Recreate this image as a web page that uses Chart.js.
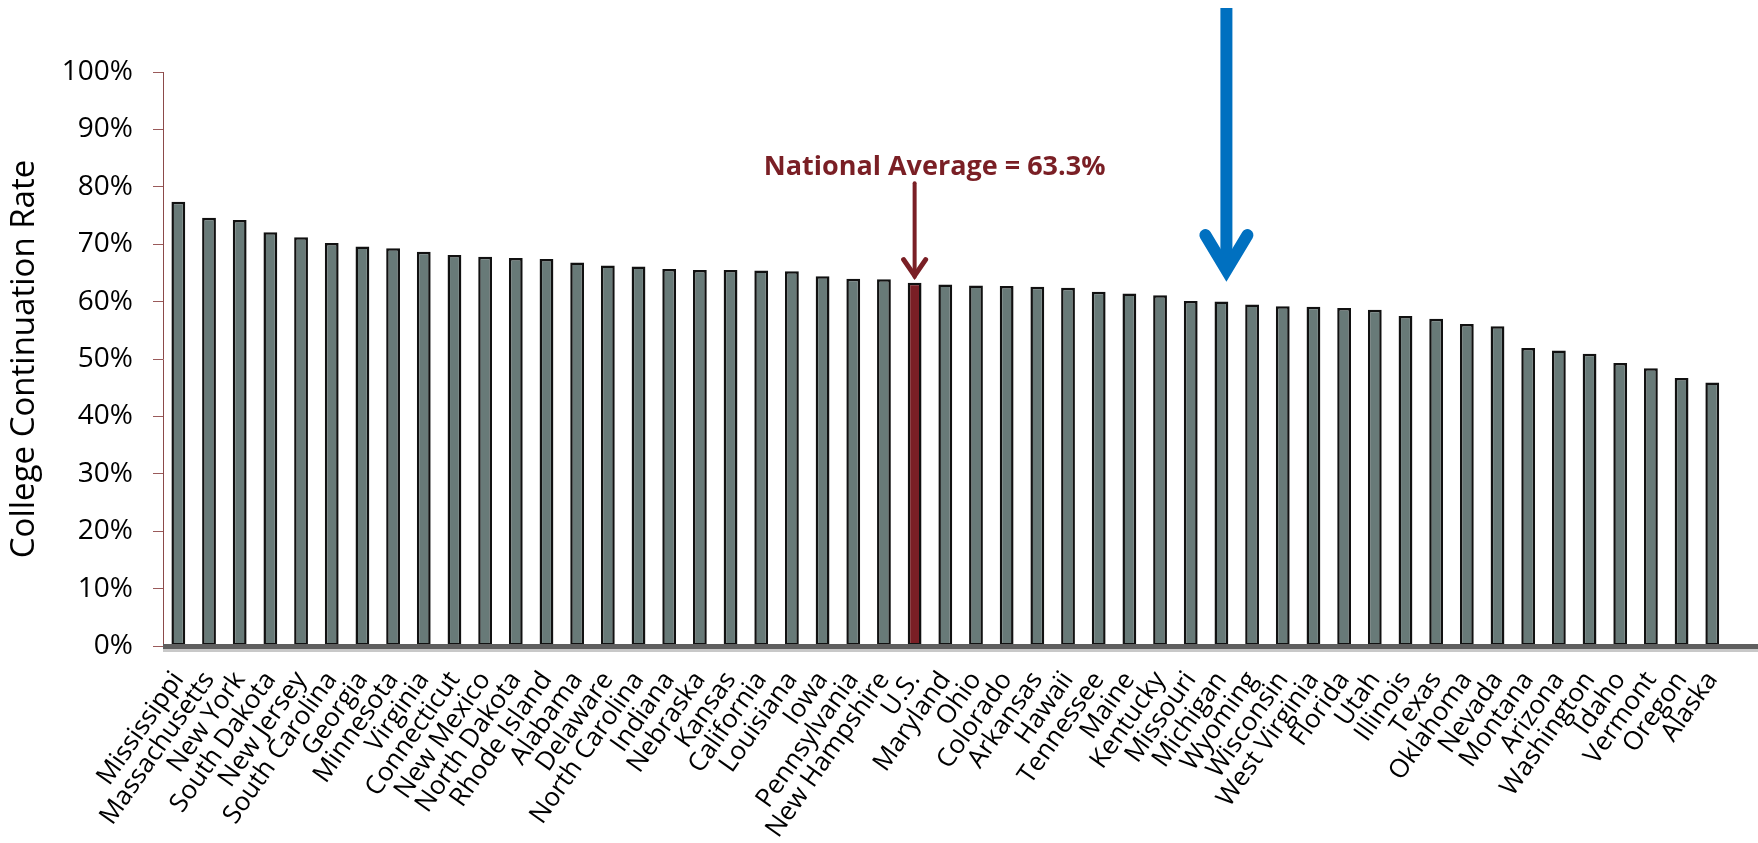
<!DOCTYPE html>
<html>
<head>
<meta charset="utf-8">
<script src="https://cdn.jsdelivr.net/npm/chart.js@4.4.1/dist/chart.umd.min.js"></script>
<style>
    body { margin: 0; background: #fff; }
    #wrap { width: 1758px; height: 843px; }
</style>
</head>
<body>
<div id="wrap"><canvas id="js--chart"></canvas></div>
<script>
/* college continuation rate per state, U.S. = national average */

const states = [
    "Mississippi", "Massachusetts", "New York", "South Dakota", "New Jersey", "South Carolina",
    "Georgia", "Minnesota", "Virginia", "Connecticut", "New Mexico", "North Dakota",
    "Rhode Island", "Alabama", "Delaware", "North Carolina", "Indiana", "Nebraska",
    "Kansas", "California", "Louisiana", "Iowa", "Pennsylvania", "New Hampshire",
    "U.S.", "Maryland", "Ohio", "Colorado", "Arkansas", "Hawaii",
    "Tennessee", "Maine", "Kentucky", "Missouri", "Michigan", "Wyoming",
    "Wisconsin", "West Virginia", "Florida", "Utah", "Illinois", "Texas",
    "Oklahoma", "Nevada", "Montana", "Arizona", "Washington", "Idaho",
    "Vermont", "Oregon", "Alaska"
];

const rates = [
    77.4, 74.6, 74.2, 72.1, 71.2, 70.2,
    69.6, 69.3, 68.7, 68.1, 67.8, 67.6,
    67.4, 66.8, 66.3, 66.1, 65.7, 65.5,
    65.5, 65.4, 65.3, 64.4, 64.0, 63.9,
    63.3, 63.0, 62.8, 62.7, 62.6, 62.4,
    61.7, 61.4, 61.1, 60.1, 60.0, 59.5,
    59.2, 59.1, 58.9, 58.6, 57.5, 57.0,
    56.1, 55.7, 51.9, 51.5, 50.9, 49.3,
    48.4, 46.7, 45.9
];

const yTicks = [0, 10, 20, 30, 40, 50, 60, 70, 80, 90, 100];

const nationalLabel = "National Average = 63.3%";
const nationalState = "U.S.";
const nationalValue = 63.3;
const pointedState = "Michigan";

const barColor = "#687a78";
const usColor = "#7a1f25";
const blue = "#0070c0";

// de U.S. balk krijgt een andere kleur
const colors = states.map(function (s) {
    return s === nationalState ? usColor : barColor;
});

// pijlen, tekst en de dikke x-as lijn
const extras = {
    id: "extras",
    afterDatasetsDraw: function (chart) {
        const ctx = chart.ctx;
        const x = chart.scales.x;
        const y = chart.scales.y;
        const area = chart.chartArea;

        // dikke grijze as onderaan, loopt door tot de rand
        const y0 = y.getPixelForValue(0);
        ctx.save();
        ctx.fillStyle = "#c8c8c8";
        ctx.fillRect(area.left, y0 + 1, chart.width - area.left, 5);
        ctx.fillStyle = "#5f5f5f";
        ctx.fillRect(area.left, y0 - 2, chart.width - area.left, 5);

        // national average
        const ux = x.getPixelForValue(states.indexOf(nationalState));
        ctx.fillStyle = usColor;
        ctx.font = "bold 27px 'Open Sans'";
        ctx.textAlign = "center";
        ctx.textBaseline = "alphabetic";
        ctx.fillText(nationalLabel, ux + 20, y.getPixelForValue(82.0));

        const redTop = y.getPixelForValue(80.6);
        const redTip = y.getPixelForValue(nationalValue + 0.7);
        ctx.strokeStyle = usColor;
        ctx.lineWidth = 4;
        ctx.lineCap = "round";
        ctx.beginPath();
        ctx.moveTo(ux, redTop);
        ctx.lineTo(ux, redTip - 2);
        ctx.stroke();
        ctx.lineWidth = 5;
        ctx.lineJoin = "miter";
        ctx.beginPath();
        ctx.moveTo(ux - 11, redTip - 19);
        ctx.lineTo(ux, redTip - 3);
        ctx.lineTo(ux + 11, redTip - 19);
        ctx.stroke();

        // blauwe pijl naar Michigan
        const mx = x.getPixelForValue(states.indexOf(pointedState)) + 5;
        const blueTip = y.getPixelForValue(64.1);
        ctx.strokeStyle = blue;
        ctx.lineWidth = 12;
        ctx.lineCap = "butt";
        ctx.beginPath();
        ctx.moveTo(mx, 8);
        ctx.lineTo(mx, blueTip - 12);
        ctx.stroke();
        ctx.lineCap = "round";
        ctx.lineJoin = "miter";
        ctx.beginPath();
        ctx.moveTo(mx - 21, blueTip - 43);
        ctx.lineTo(mx, blueTip - 8);
        ctx.lineTo(mx + 21, blueTip - 43);
        ctx.stroke();
        ctx.restore();
    }
};

const data = {
    labels: states,
    datasets: [
        {
            label: "College Continuation Rate",
            data: rates,
            backgroundColor: colors,
            borderColor: "#111111",
            borderWidth: 2.5,
            borderSkipped: false,
            barPercentage: 0.45,
            categoryPercentage: 1.0
        }
    ]
};

const config = {
    type: "bar",
    data: data,
    plugins: [extras],
    options: {
        responsive: true,
        maintainAspectRatio: false,
        animation: false,
        layout: {
            padding: { top: 72, right: 18, bottom: 0, left: 0 }
        },
        plugins: {
            legend: { display: false },
            tooltip: { enabled: false }
        },
        scales: {
            x: {
                grid: { display: false, drawTicks: false },
                border: { display: false },
                ticks: {
                    autoSkip: false,
                    maxRotation: 55,
                    minRotation: 55,
                    padding: 20,
                    color: "#000",
                    font: { family: "'Open Sans'", size: 26 }
                },
                afterFit: function (scale) {
                    scale.height = 197;
                }
            },
            y: {
                min: 0,
                max: 100,
                afterBuildTicks: function (scale) {
                    scale.ticks = yTicks.map(function (v) { return { value: v }; });
                },
                grid: {
                    drawOnChartArea: false,
                    drawTicks: true,
                    tickLength: 10,
                    color: "#9a5a5a"
                },
                border: { color: "#8c4a4a", width: 1 },
                ticks: {
                    padding: 20,
                    color: "#000",
                    font: { family: "'Open Sans'", size: 28 },
                    callback: function (v) { return v + "%"; }
                },
                title: {
                    display: true,
                    text: "College Continuation Rate",
                    color: "#000",
                    font: { family: "'Open Sans'", size: 33 },
                    padding: { top: 5, bottom: 0 }
                },
                afterFit: function (scale) {
                    scale.width = 163;
                }
            }
        }
    }
};

new Chart(document.getElementById("js--chart"), config);
</script>
</body>
</html>
